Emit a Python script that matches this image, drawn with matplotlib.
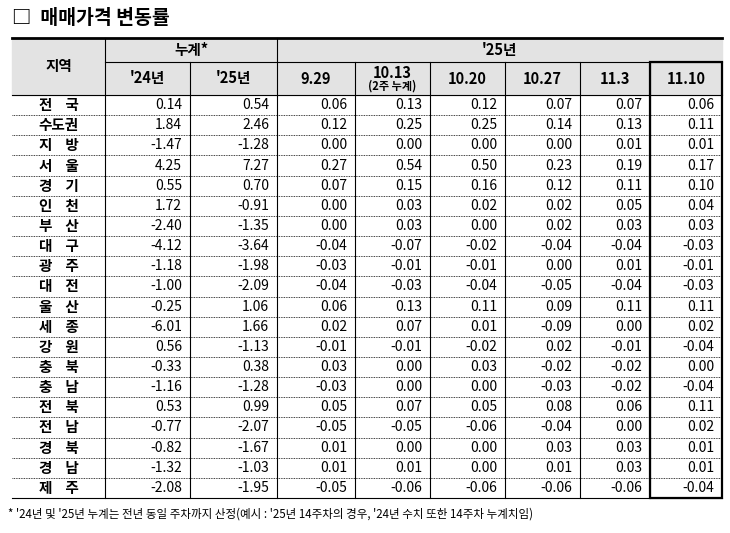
import matplotlib
matplotlib.use("Agg")
import matplotlib.pyplot as plt
from matplotlib.patches import Rectangle

plt.rcParams['font.family'] = ['Noto Sans CJK KR', 'DejaVu Sans']

title = "□  매매가격 변동률"
regions = ["전    국","수도권","지    방","서    울","경    기","인    천","부    산","대    구","광    주","대    전",
           "울    산","세    종","강    원","충    북","충    남","전    북","전    남","경    북","경    남","제    주"]
cum24 = [0.14,1.84,-1.47,4.25,0.55,1.72,-2.40,-4.12,-1.18,-1.00,-0.25,-6.01,0.56,-0.33,-1.16,0.53,-0.77,-0.82,-1.32,-2.08]
cum25 = [0.54,2.46,-1.28,7.27,0.70,-0.91,-1.35,-3.64,-1.98,-2.09,1.06,1.66,-1.13,0.38,-1.28,0.99,-2.07,-1.67,-1.03,-1.95]
w0929 = [0.06,0.12,0.00,0.27,0.07,0.00,0.00,-0.04,-0.03,-0.04,0.06,0.02,-0.01,0.03,-0.03,0.05,-0.05,0.01,0.01,-0.05]
w1013 = [0.13,0.25,0.00,0.54,0.15,0.03,0.03,-0.07,-0.01,-0.03,0.13,0.07,-0.01,0.00,0.00,0.07,-0.05,0.00,0.01,-0.06]
w1020 = [0.12,0.25,0.00,0.50,0.16,0.02,0.00,-0.02,-0.01,-0.04,0.11,0.01,-0.02,0.03,0.00,0.05,-0.06,0.00,0.00,-0.06]
w1027 = [0.07,0.14,0.00,0.23,0.12,0.02,0.02,-0.04,0.00,-0.05,0.09,-0.09,0.02,-0.02,-0.03,0.08,-0.04,0.03,0.01,-0.06]
w1103 = [0.07,0.13,0.01,0.19,0.11,0.05,0.03,-0.04,0.01,-0.04,0.11,0.00,-0.01,-0.02,-0.02,0.06,0.00,0.03,0.03,-0.06]
w1110 = [0.06,0.11,0.01,0.17,0.10,0.04,0.03,-0.03,-0.01,-0.03,0.11,0.02,-0.04,0.00,-0.04,0.11,0.02,0.01,0.01,-0.04]
cols = [cum24,cum25,w0929,w1013,w1020,w1027,w1103,w1110]
sub_headers = ["'24년","'25년","9.29","10.13","10.20","10.27","11.3","11.10"]
footnote = "* '24년 및 '25년 누계는 전년 동일 주차까지 산정(예시 : '25년 14주차의 경우, '24년 수치 또한 14주차 누계치임)"

fig = plt.figure(figsize=(7.3,5.33), dpi=100)
ax = fig.add_axes([0,0,1,1])
ax.set_xlim(0,730); ax.set_ylim(533,0); ax.axis('off')

xb = [12,105,190,277,355,430,505,580,650,722]
top, h1, h2 = 38, 62, 95
bottom = 498
rh = (bottom-h2)/len(regions)
gray = '#e3e3e3'

ax.add_patch(Rectangle((xb[0],top), xb[-1]-xb[0], h2-top, color=gray, zorder=0))
ax.text(12, 18, title, fontsize=14, fontweight='bold', va='center', ha='left')

ax.plot([xb[0],xb[-1]],[top,top], color='k', lw=2)
ax.plot([xb[1],xb[-1]],[h1,h1], color='k', lw=0.8)
ax.plot([xb[0],xb[-1]],[h2,h2], color='k', lw=0.8)
ax.plot([xb[0],xb[-1]],[bottom,bottom], color='k', lw=0.8)
for i,x in enumerate(xb[1:-1], start=1):
    y0 = top if i in (1,3) else h1
    ax.plot([x,x],[y0,bottom], color='k', lw=0.8)
for i in range(1,len(regions)):
    y = h2 + i*rh
    ax.plot([xb[0],xb[-1]],[y,y], color='k', lw=0.6, ls=(0,(1,1)))
ax.add_patch(Rectangle((xb[8],h1), xb[9]-xb[8], bottom-h1, fill=False, ec='k', lw=1.6, zorder=5))

ax.text((xb[0]+xb[1])/2, (top+h2)/2, "지역", ha='center', va='center', fontsize=10.5, fontweight='bold')
ax.text((xb[1]+xb[3])/2, (top+h1)/2, "누계*", ha='center', va='center', fontsize=10.5, fontweight='bold')
ax.text((xb[3]+xb[9])/2, (top+h1)/2, "'25년", ha='center', va='center', fontsize=10.5, fontweight='bold')
for j,lab in enumerate(sub_headers):
    cx = (xb[j+1]+xb[j+2])/2
    if lab == "10.13":
        ax.text(cx, (h1+h2)/2-6, lab, ha='center', va='center', fontsize=10.5, fontweight='bold')
        ax.text(cx, (h1+h2)/2+8, "(2주 누계)", ha='center', va='center', fontsize=8, fontweight='bold')
    else:
        ax.text(cx, (h1+h2)/2, lab, ha='center', va='center', fontsize=10.5, fontweight='bold')

for i,r in enumerate(regions):
    cy = h2 + (i+0.5)*rh
    ax.text((xb[0]+xb[1])/2, cy, r, ha='center', va='center', fontsize=10.5, fontweight='bold')
    for j,c in enumerate(cols):
        ax.text(xb[j+2]-8, cy, f"{c[i]:.2f}", ha='right', va='center', fontsize=10)

ax.text(8, 514, footnote, ha='left', va='center', fontsize=8.3)
fig.savefig("out.png", dpi=100)
